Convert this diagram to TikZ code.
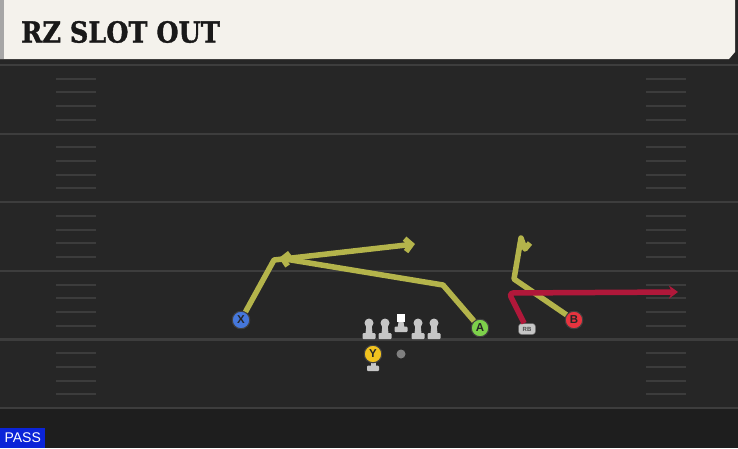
\documentclass[tikz,border=0pt]{standalone}
\usepackage{fontspec}
\setmainfont{Liberation Sans}
\newfontfamily\titlefont[FakeStretch=0.88, FakeBold=1.2]{DejaVu Serif}
\usetikzlibrary{arrows.meta}

\definecolor{fieldgray}{HTML}{262626}
\definecolor{enddark}{HTML}{1E1E1E}
\definecolor{yardline}{HTML}{3D3D3D}
\definecolor{hashgray}{HTML}{3C3C3C}
\definecolor{headcream}{HTML}{F4F2EC}
\definecolor{routeyellow}{HTML}{B4B44B}
\definecolor{routered}{HTML}{B0183A}
\definecolor{xblue}{HTML}{4577DB}
\definecolor{agreen}{HTML}{7DD14B}
\definecolor{bred}{HTML}{E8343F}
\definecolor{yyellow}{HTML}{F1C21F}
\definecolor{linegray}{HTML}{C6C6C6}
\definecolor{passblue}{HTML}{0B24D8}

\tikzset{
  player/.style={circle, draw=black!75, line width=1pt, minimum size=17.5pt,
    inner sep=0pt, font=\bfseries\fontsize{11.5}{11.5}\selectfont, text=black!85},
  route/.style={line width=5.5pt, draw=routeyellow, line join=round},
  redroute/.style={line width=5.5pt, draw=routered, line join=round},
  barb/.style={-{Straight Barb[length=6pt,width=13pt]}},
  olhead/.style={circle, fill=linegray, minimum size=9pt, inner sep=0pt}
}

\begin{document}
\begin{tikzpicture}[x=1pt, y=-1pt]
\useasboundingbox (0,0) rectangle (738,448);
% field
\fill[fieldgray] (0,0) rectangle (738,448);
\fill[enddark] (0,408) rectangle (738,448);
\foreach \k in {0,...,5}
  \draw[yardline, line width=2.2pt] (0,65+68.6*\k) -- (738,65+68.6*\k);
\foreach \k in {0,...,4}
  \foreach \h in {1,...,4} {
    \draw[hashgray, line width=2pt] (56,65+68.6*\k+13.7*\h) -- (96,65+68.6*\k+13.7*\h);
    \draw[hashgray, line width=2pt] (646,65+68.6*\k+13.7*\h) -- (686,65+68.6*\k+13.7*\h);
  }
% header
\fill[black!85] (0,0) rectangle (738,62);
\fill[headcream] (0,0) -- (735,0) -- (735,52) -- (729,59) -- (0,59) -- cycle;
\fill[black!35] (0,0) rectangle (4,59);
\node[anchor=west, inner sep=0pt, font=\titlefont\bfseries\fontsize{29}{29}\selectfont,
  text=black!90] (title) at (21,32) {RZ SLOT OUT};

% players
\node[player, fill=xblue] (X) at (241,320) {X};
\node[player, fill=agreen] (A) at (480,328) {A};
\node[player, fill=bred] (B) at (574,320) {B};
\fill[linegray] (370.5,361) rectangle (375.5,367);
\fill[linegray, rounded corners=1pt] (367,365.5) rectangle (379,371);
\node[player, fill=yyellow] (Y) at (373,354) {Y};
\node[circle, fill=black!50, minimum size=9pt, inner sep=0pt] (ball) at (401,354) {};
\node[rounded corners=3pt, fill=linegray, draw=black!60, line width=0.5pt,
  minimum width=17pt, minimum height=11pt, inner sep=0pt,
  font=\bfseries\fontsize{6}{6}\selectfont, text=black!70] (RB) at (527,329) {RB};

% line
\foreach \x/\n in {369/lt, 385/lg, 418/rg, 434/rt} {
  \fill[linegray] (\x-2.5,323) -- (\x+2.5,323) -- (\x+3.5,334) -- (\x-3.5,334) -- cycle;
  \fill[linegray, rounded corners=1pt] (\x-6.5,333) rectangle (\x+6.5,339);
  \node[olhead] (\n) at (\x,323) {};
}
\node[fill=white, minimum size=8pt, inner sep=0pt] (C) at (401,318) {};
\fill[linegray] (398.5,322) -- (403.5,322) -- (404.5,328) -- (397.5,328) -- cycle;
\fill[linegray, rounded corners=1pt] (394.5,326.5) rectangle (407.5,332);

% routes
\coordinate (xbreak) at (274,260);
\coordinate (xend) at (415,244);
\coordinate (abreak) at (443,285);
\coordinate (aend) at (279,258);
\coordinate (bbreak) at (514,279);
\coordinate (btop) at (521,238);
\coordinate (bhook) at (525,249);
\coordinate (bend) at (530,243);
\coordinate (rbbreak) at (509,293);
\coordinate (rbend) at (678,292);

\draw[route, barb] (X) -- (xbreak) -- (xend);
\draw[route, barb] (A) -- (abreak) -- (aend);
\draw[route] (B) -- (bbreak) -- (btop) -- (bhook) -- (bend);
\draw[redroute, rounded corners=4pt, -{Stealth[length=9pt,width=13pt,inset=3pt]}]
  (RB) -- (rbbreak) -- (rbend);

% play type
\node[anchor=south west, fill=passblue, text=white, minimum width=45pt,
  minimum height=20pt, inner sep=0pt, font=\fontsize{14}{14}\selectfont] (pass) at (0,448) {PASS};
\end{tikzpicture}
\end{document}
